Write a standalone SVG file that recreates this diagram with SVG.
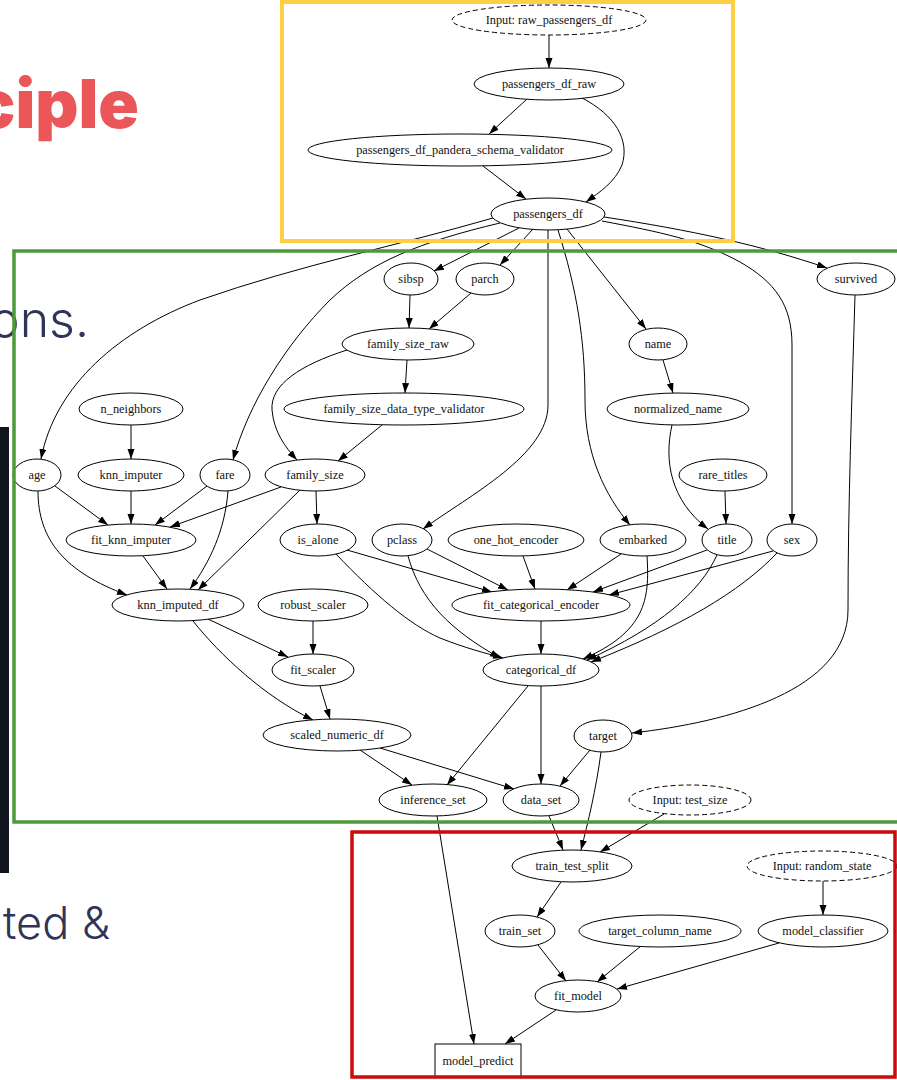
<svg xmlns="http://www.w3.org/2000/svg" width="897" height="1080" viewBox="0 0 897 1080">
  <defs>
    <marker id="arrow" markerUnits="userSpaceOnUse" markerWidth="10" markerHeight="8" refX="10" refY="3.5" orient="auto">
      <path d="M0,0 L10,3.5 L0,7 z" fill="#000"/>
    </marker>
    <style>
      .node ellipse, .node rect { fill: #fff; stroke: #000; stroke-width: 1; }
      .node.input ellipse { stroke-dasharray: 5 3; }
      .node text { font-family: "Liberation Serif", "Times New Roman", serif; font-size: 12.3px; fill: #111; text-anchor: middle; }
      #edges path { fill: none; stroke: #000; stroke-width: 1; marker-end: url(#arrow); }
      .frame { fill: none; }
      .slide-title { font-family: Inter, "Liberation Sans", sans-serif; font-weight: 900; fill: #eb5658; }
      .slide-body { font-family: Inter, "Liberation Sans", sans-serif; font-weight: 300; fill: #2e3558; }
    </style>
  </defs>

  <rect width="897" height="1080" fill="#fff"/>

  <!-- slide background fragments -->
  <text class="slide-title" x="139" y="128" font-size="67" text-anchor="end">ciple</text>
  <text class="slide-body" x="89" y="337" font-size="50" text-anchor="end">ons.</text>
  <text class="slide-body" x="110" y="939" font-size="45" text-anchor="end">ted &amp;</text>
  <rect x="0" y="427" width="9" height="446" fill="#10151d"/>

  <!-- connectors -->
  <g id="edges">
    <path d="M549,35 L549,68"/>
    <path d="M527,99 L489,134"/>
    <path d="M582,98 C615,115 630,140 622,165 C615,182 600,192 586,202"/>
    <path d="M483,166 L526,199"/>
    <path d="M493,218 C400,245 300,265 200,300 C120,330 55,385 41,459"/>
    <path d="M500,223 C420,242 370,262 330,300 C285,345 248,405 233,460"/>
    <path d="M519,228 L434,271"/>
    <path d="M533,229 L500,265"/>
    <path d="M548,230 L548,405 C548,455 470,495 423,529"/>
    <path d="M558,230 C577,290 585,340 585,400 C585,455 605,495 630,525"/>
    <path d="M567,229 L646,329"/>
    <path d="M602,221 C660,232 700,240 740,262 C775,282 792,305 792,345 L792,524"/>
    <path d="M604,217 C690,230 760,245 827,268"/>
    <path d="M855,295 C852,400 848,500 848,610 C848,690 730,722 632,733"/>
    <path d="M410,295 L409,328"/>
    <path d="M471,293 L429,329"/>
    <path d="M407,360 L405,393"/>
    <path d="M347,350 C300,365 270,385 272,410 C274,432 285,447 297,460"/>
    <path d="M382,425 L338,461"/>
    <path d="M131,425 L131,459"/>
    <path d="M55,486 L108,525"/>
    <path d="M131,491 L131,524"/>
    <path d="M207,486 L155,525"/>
    <path d="M281,487 L170,527"/>
    <path d="M38,491 C38,540 65,572 127,595"/>
    <path d="M143,556 L167,589"/>
    <path d="M228,491 C225,530 210,562 190,589"/>
    <path d="M300,490 L198,590"/>
    <path d="M316,491 L317,524"/>
    <path d="M347,550 L492,592"/>
    <path d="M336,554 C375,595 410,625 440,638 C465,648 485,653 503,658"/>
    <path d="M427,549 L508,590"/>
    <path d="M408,556 C420,600 450,630 500,658"/>
    <path d="M523,556 L535,589"/>
    <path d="M621,554 L567,590"/>
    <path d="M707,550 L593,592"/>
    <path d="M773,551 L609,595"/>
    <path d="M647,556 C650,600 645,632 583,659"/>
    <path d="M717,555 C700,592 660,627 587,660"/>
    <path d="M777,553 C740,592 680,627 591,662"/>
    <path d="M541,621 L541,654"/>
    <path d="M663,360 L673,393"/>
    <path d="M672,425 C664,460 670,500 708,529"/>
    <path d="M725,491 L726,524"/>
    <path d="M208,619 L288,657"/>
    <path d="M193,621 C220,655 265,697 313,720"/>
    <path d="M313,621 L313,654"/>
    <path d="M320,686 L330,719"/>
    <path d="M360,750 L412,785"/>
    <path d="M380,748 L514,789"/>
    <path d="M528,686 L447,785"/>
    <path d="M541,686 L541,784"/>
    <path d="M590,750 L560,786"/>
    <path d="M601,752 C596,790 588,822 581,850"/>
    <path d="M549,816 L563,850"/>
    <path d="M664,814 L600,852"/>
    <path d="M437,816 L474,1044"/>
    <path d="M561,882 L537,917"/>
    <path d="M823,881 L823,915"/>
    <path d="M538,945 L566,981"/>
    <path d="M641,946 L597,982"/>
    <path d="M779,943 L617,989"/>
    <path d="M556,1010 L505,1044"/>
  </g>

  <!-- nodes -->
  <g id="input_raw_passengers_df" class="node input"><ellipse cx="549" cy="20" rx="97" ry="15"/><text x="549" y="24.3">Input: raw_passengers_df</text></g>
  <g id="passengers_df_raw" class="node"><ellipse cx="549" cy="84" rx="75" ry="16"/><text x="549" y="88.3">passengers_df_raw</text></g>
  <g id="passengers_df_pandera_schema_validator" class="node"><ellipse cx="460" cy="150" rx="152" ry="16"/><text x="460" y="154.3">passengers_df_pandera_schema_validator</text></g>
  <g id="passengers_df" class="node"><ellipse cx="548" cy="214" rx="57" ry="16"/><text x="548" y="218.3">passengers_df</text></g>
  <g id="sibsp" class="node"><ellipse cx="411" cy="279" rx="27" ry="16"/><text x="411" y="283.3">sibsp</text></g>
  <g id="parch" class="node"><ellipse cx="485" cy="279" rx="29" ry="16"/><text x="485" y="283.3">parch</text></g>
  <g id="survived" class="node"><ellipse cx="856" cy="279" rx="39" ry="16"/><text x="856" y="283.3">survived</text></g>
  <g id="family_size_raw" class="node"><ellipse cx="408" cy="344" rx="66" ry="16"/><text x="408" y="348.3">family_size_raw</text></g>
  <g id="name" class="node"><ellipse cx="658" cy="344" rx="29" ry="16"/><text x="658" y="348.3">name</text></g>
  <g id="n_neighbors" class="node"><ellipse cx="131" cy="409" rx="52" ry="16"/><text x="131" y="413.3">n_neighbors</text></g>
  <g id="family_size_data_type_validator" class="node"><ellipse cx="404" cy="409" rx="120" ry="16"/><text x="404" y="413.3">family_size_data_type_validator</text></g>
  <g id="normalized_name" class="node"><ellipse cx="678" cy="409" rx="71" ry="16"/><text x="678" y="413.3">normalized_name</text></g>
  <g id="age" class="node"><ellipse cx="37" cy="475" rx="24" ry="16"/><text x="37" y="479.3">age</text></g>
  <g id="knn_imputer" class="node"><ellipse cx="131" cy="475" rx="53" ry="16"/><text x="131" y="479.3">knn_imputer</text></g>
  <g id="fare" class="node"><ellipse cx="225" cy="475" rx="25" ry="16"/><text x="225" y="479.3">fare</text></g>
  <g id="family_size" class="node"><ellipse cx="315" cy="475" rx="50" ry="16"/><text x="315" y="479.3">family_size</text></g>
  <g id="rare_titles" class="node"><ellipse cx="723" cy="475" rx="44" ry="16"/><text x="723" y="479.3">rare_titles</text></g>
  <g id="fit_knn_imputer" class="node"><ellipse cx="131" cy="540" rx="65" ry="16"/><text x="131" y="544.3">fit_knn_imputer</text></g>
  <g id="is_alone" class="node"><ellipse cx="318" cy="540" rx="38" ry="16"/><text x="318" y="544.3">is_alone</text></g>
  <g id="pclass" class="node"><ellipse cx="402" cy="540" rx="30" ry="16"/><text x="402" y="544.3">pclass</text></g>
  <g id="one_hot_encoder" class="node"><ellipse cx="516" cy="540" rx="68" ry="16"/><text x="516" y="544.3">one_hot_encoder</text></g>
  <g id="embarked" class="node"><ellipse cx="643" cy="540" rx="43" ry="16"/><text x="643" y="544.3">embarked</text></g>
  <g id="title" class="node"><ellipse cx="727" cy="540" rx="25" ry="16"/><text x="727" y="544.3">title</text></g>
  <g id="sex" class="node"><ellipse cx="792" cy="540" rx="25" ry="16"/><text x="792" y="544.3">sex</text></g>
  <g id="knn_imputed_df" class="node"><ellipse cx="178" cy="605" rx="66" ry="16"/><text x="178" y="609.3">knn_imputed_df</text></g>
  <g id="robust_scaler" class="node"><ellipse cx="313" cy="605" rx="55" ry="16"/><text x="313" y="609.3">robust_scaler</text></g>
  <g id="fit_categorical_encoder" class="node"><ellipse cx="541" cy="605" rx="89" ry="16"/><text x="541" y="609.3">fit_categorical_encoder</text></g>
  <g id="fit_scaler" class="node"><ellipse cx="313" cy="670" rx="41" ry="16"/><text x="313" y="674.3">fit_scaler</text></g>
  <g id="categorical_df" class="node"><ellipse cx="541" cy="670" rx="58" ry="16"/><text x="541" y="674.3">categorical_df</text></g>
  <g id="scaled_numeric_df" class="node"><ellipse cx="337" cy="735" rx="74" ry="16"/><text x="337" y="739.3">scaled_numeric_df</text></g>
  <g id="target" class="node"><ellipse cx="603" cy="736" rx="29" ry="16"/><text x="603" y="740.3">target</text></g>
  <g id="inference_set" class="node"><ellipse cx="433" cy="800" rx="54" ry="16"/><text x="433" y="804.3">inference_set</text></g>
  <g id="data_set" class="node"><ellipse cx="541" cy="800" rx="38" ry="16"/><text x="541" y="804.3">data_set</text></g>
  <g id="input_test_size" class="node input"><ellipse cx="690" cy="800" rx="61" ry="15"/><text x="690" y="804.3">Input: test_size</text></g>
  <g id="train_test_split" class="node"><ellipse cx="572" cy="866" rx="60" ry="16"/><text x="572" y="870.3">train_test_split</text></g>
  <g id="input_random_state" class="node input"><ellipse cx="822" cy="866" rx="75" ry="15"/><text x="822" y="870.3">Input: random_state</text></g>
  <g id="train_set" class="node"><ellipse cx="520" cy="931" rx="35" ry="16"/><text x="520" y="935.3">train_set</text></g>
  <g id="target_column_name" class="node"><ellipse cx="660" cy="931" rx="81" ry="16"/><text x="660" y="935.3">target_column_name</text></g>
  <g id="model_classifier" class="node"><ellipse cx="823" cy="931" rx="65" ry="16"/><text x="823" y="935.3">model_classifier</text></g>
  <g id="fit_model" class="node"><ellipse cx="578" cy="996" rx="43" ry="16"/><text x="578" y="1000.3">fit_model</text></g>
  <g id="model_predict" class="node"><rect x="435" y="1044" width="86" height="33"/><text x="478" y="1064.8">model_predict</text></g>

  <!-- highlight frames -->
  <rect class="frame" x="282" y="2" width="451" height="239" stroke="#fccf45" stroke-width="4"/>
  <rect class="frame" x="14" y="251" width="900" height="571" stroke="#4d9a3a" stroke-width="3.5"/>
  <rect class="frame" x="352" y="832" width="543" height="245" stroke="#cd0a0a" stroke-width="3.5"/>
</svg>
